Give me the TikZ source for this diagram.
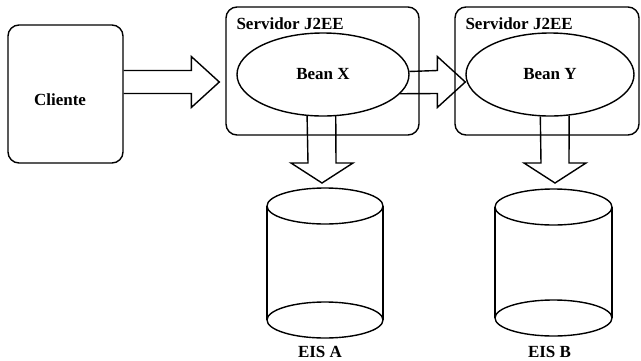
\documentclass[tikz,border=0pt]{standalone}
\usepackage{fontspec}
\setmainfont{Liberation Serif}
\usetikzlibrary{shapes.geometric,calc}

\tikzset{
  ln/.style={line width=1.4pt},
  lbl/.style={font=\bfseries\fontsize{17}{20}\selectfont, inner sep=0pt},
  rbox/.style={draw, ln, rounded corners=11pt, inner sep=0pt},
  bean/.style={draw, ln, ellipse, inner sep=0pt, font=\bfseries\fontsize{17}{20}\selectfont},
  drum/.style={inner sep=0pt, outer sep=0pt},
  blk/.style={ln, line join=miter, miter limit=10},
}

% hollow block arrow pointing right: #1 upper edge start, #2 lower edge start, #3 tip, #4 head length
\newcommand\hblock[4]{%
  \draw[blk] (#1) -- ($(#3)+(-#4,-11.5)$) -- ($(#3)+(-#4,-25.5)$) -- (#3)
    -- ($(#3)+(-#4,25.5)$) -- ($(#3)+(-#4,11.5)$) -- (#2);}

% hollow block arrow pointing down: #1 left edge start, #2 right edge start, #3 tip, #4 head length
\newcommand\vblock[4]{%
  \draw[blk] (#1) -- ($(#3)+(-14,-#4)$) -- ($(#3)+(-31,-#4)$) -- (#3)
    -- ($(#3)+(31,-#4)$) -- ($(#3)+(14,-#4)$) -- (#2);}

% database drum drawn inside the frame of node #1, cap x radius #2
\newcommand\drawdrum[2]{%
  \draw[ln] ($(#1.north west)+(0,18)$) -- ($(#1.south west)+(0,-18)$)
            ($(#1.north east)+(0,18)$) -- ($(#1.south east)+(0,-18)$);
  \draw[ln] ($(#1.north)+(0,18)$) ellipse[x radius=#2, y radius=18pt];
  \draw[ln] ($(#1.south)+(0,-18)$) ellipse[x radius=#2, y radius=18pt];}

\begin{document}
\begin{tikzpicture}[x=1pt, y=-1pt]
  \useasboundingbox (0,0) rectangle (641,360);

  % client
  \node[rbox, minimum width=115pt, minimum height=138pt,
        label={[lbl, name=clTxt, shift={(-5.5,6)}]center:Cliente}] (cliente) at (65.5,94) {};

  % application servers
  \node[rbox, minimum width=193pt, minimum height=128pt] (srvX) at (322.5,71) {};
  \node[rbox, minimum width=184pt, minimum height=128pt] (srvY) at (547,71) {};
  \node[lbl, anchor=west] (srvXTxt) at ($(srvX.north west)+(11,17)$) {Servidor J2EE};
  \node[lbl, anchor=west] (srvYTxt) at ($(srvY.north west)+(11,17)$) {Servidor J2EE};

  % beans
  \node[bean, minimum width=172pt, minimum height=83pt] (beanX) at (323,74.5) {Bean X};
  \node[bean, minimum width=168pt, minimum height=83pt] (beanY) at (550,74.5) {Bean Y};

  % enterprise information systems
  \node[drum, minimum width=116pt, minimum height=150pt] (eisA) at (325,263) {};
  \node[drum, minimum width=117pt, minimum height=147pt] (eisB) at (553.5,262.5) {};
  \drawdrum{eisA}{58pt}
  \drawdrum{eisB}{58.5pt}
  \node[lbl] (eisATxt) at ($(eisA.south)+(-5,14)$) {EIS A};
  \node[lbl] (eisBTxt) at ($(eisB.south)+(-4,16)$) {EIS B};

  % arrow tips
  \coordinate (tipC)  at ($(srvX.west)+(-6,11)$);
  \coordinate (tipXY) at ($(beanY.west)+(0,7.5)$);
  \coordinate (tipA)  at ($(eisA.north)+(-3,-5)$);
  \coordinate (tipB)  at ($(eisB.north)+(1.5,-6)$);

  % block arrows
  \hblock{$(cliente.east)+(0,-23.5)$}{$(cliente.east)+(0,-0.5)$}{tipC}{28}
  \hblock{beanX.2.7}{beanX.-14}{tipXY}{28}
  \vblock{beanX.249.9}{beanX.287.6}{tipA}{20}
  \vblock{beanY.257.7}{beanY.295.2}{tipB}{20}
\end{tikzpicture}
\end{document}
